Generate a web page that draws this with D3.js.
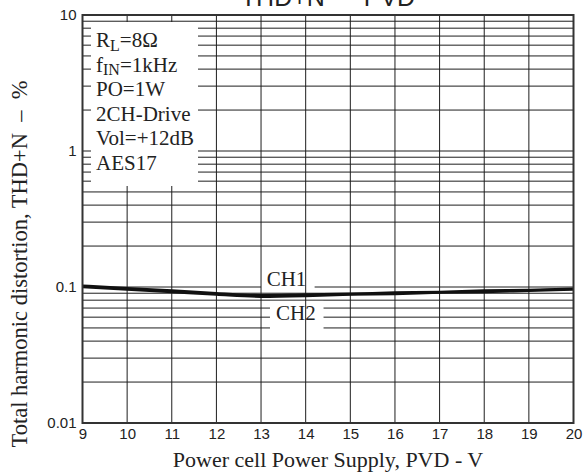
<!DOCTYPE html>
<html>
<head>
<meta charset="utf-8">
<script src="https://cdn.jsdelivr.net/npm/d3@7"></script>
<style>
  body { margin: 0; background: #fff; }
  svg { display: block; }
</style>
</head>
<body>
<svg id="chart"></svg>
<script>
// chart values
const pvd = [9, 10, 11, 12, 13, 14, 15, 16, 17, 18, 19, 20];
const ch1 = [0.102, 0.098, 0.094, 0.090, 0.087, 0.088, 0.089, 0.091, 0.092, 0.094, 0.095, 0.097];
const ch2 = [0.100, 0.096, 0.092, 0.088, 0.085, 0.086, 0.088, 0.089, 0.091, 0.092, 0.094, 0.096];
const xTicks = [9, 10, 11, 12, 13, 14, 15, 16, 17, 18, 19, 20];
const yTicks = [0.01, 0.1, 1, 10];
const yTickLabels = ['0.01', '0.1', '1', '10'];
const notes = ['R|L|=8Ω', 'f|IN|=1kHz', 'PO=1W', '2CH-Drive', 'Vol=+12dB', 'AES17'];

const W = 584, H = 476;
const margin = {top: 15, right: 10.5, bottom: 53, left: 82.5};
const width = W - margin.left - margin.right;
const height = H - margin.top - margin.bottom;

const svg = d3.select('#chart').attr('width', W).attr('height', H);
const g = svg.append('g').attr('transform', `translate(${margin.left},${margin.top})`);

const x = d3.scaleLinear().domain([9, 20]).range([0, width]);
const y = d3.scaleLog().domain([0.01, 10]).range([height, 0]);

const serif = '"Liberation Serif", "Times New Roman", serif';
const sans = '"Liberation Sans", Arial, sans-serif';

// horizontal grid: 1..9 of every decade
const hLines = [];
[0.01, 0.1, 1].forEach(dec => {
  for (let k = 1; k <= 9; k++) hLines.push(dec * k);
});
g.selectAll('.hgrid')
  .data(hLines.filter(v => v > 0.01))
  .join('line')
    .attr('class', 'hgrid')
    .attr('x1', 0).attr('x2', width)
    .attr('y1', d => y(d)).attr('y2', d => y(d))
    .attr('stroke', '#1e1e1e').attr('stroke-width', 1);

// white patches behind CH labels (break the horizontal lines only)
const chBoxes = [
  {x0: 13.0, x1: 14.2, v0: 0.118, v1: 0.0935},
  {x0: 13.2, x1: 14.4, v0: 0.079, v1: 0.042}
];
g.selectAll('.chbox')
  .data(chBoxes)
  .join('rect')
    .attr('class', 'chbox')
    .attr('x', d => x(d.x0))
    .attr('width', d => x(d.x1) - x(d.x0))
    .attr('y', d => y(d.v0))
    .attr('height', d => y(d.v1) - y(d.v0))
    .attr('fill', '#fff');

// vertical grid
g.selectAll('.vgrid')
  .data(xTicks.slice(1, -1))
  .join('line')
    .attr('class', 'vgrid')
    .attr('x1', d => x(d)).attr('x2', d => x(d))
    .attr('y1', 0).attr('y2', height)
    .attr('stroke', '#1e1e1e').attr('stroke-width', 1);

// annotation box
g.append('rect')
  .attr('x', 8.5).attr('y', 7)
  .attr('width', 107).attr('height', 164)
  .attr('fill', '#fff');

const noteText = g.append('text')
  .attr('font-family', serif)
  .attr('font-size', 21)
  .attr('fill', '#222');
notes.forEach((n, i) => {
  const parts = n.split('|');
  const t = noteText.append('tspan').attr('x', 13.5).attr('y', 32 + i * 24.6);
  t.append('tspan').text(parts[0]);
  if (parts.length > 1) {
    t.append('tspan').attr('font-size', 16).attr('dy', 3.5).text(parts[1]);
    t.append('tspan').attr('dy', -3.5).text(parts[2]);
  }
});

// curves
const line = d3.line()
  .x((d, i) => x(pvd[i]))
  .y(d => y(d))
  .curve(d3.curveMonotoneX);

[ch1, ch2].forEach(s => {
  g.append('path')
    .datum(s)
    .attr('d', line)
    .attr('fill', 'none')
    .attr('stroke', '#111')
    .attr('stroke-width', 2.6);
});

// CH labels
g.append('text')
  .attr('x', x(13.57)).attr('y', y(0.102))
  .attr('text-anchor', 'middle')
  .attr('font-family', serif).attr('font-size', 21).attr('fill', '#222')
  .text('CH1');
g.append('text')
  .attr('x', x(13.78)).attr('y', y(0.0575))
  .attr('text-anchor', 'middle')
  .attr('font-family', serif).attr('font-size', 21).attr('fill', '#222')
  .text('CH2');

// frame
g.append('rect')
  .attr('width', width).attr('height', height)
  .attr('fill', 'none')
  .attr('stroke', '#333').attr('stroke-width', 2);

// axes
const xAxis = g.append('g')
  .attr('transform', `translate(0,${height})`)
  .call(d3.axisBottom(x).tickValues(xTicks).tickFormat(d3.format('d')).tickSize(0).tickPadding(5));
const yAxis = g.append('g')
  .call(d3.axisLeft(y).tickValues(yTicks).tickFormat((d, i) => yTickLabels[i]).tickSize(0).tickPadding(6));
[xAxis, yAxis].forEach(a => {
  a.select('.domain').remove();
  a.selectAll('text')
    .attr('font-family', sans).attr('font-size', 15).attr('fill', '#222');
});

// axis titles
svg.append('text')
  .attr('x', margin.left + width / 2).attr('y', 467)
  .attr('text-anchor', 'middle')
  .attr('font-family', serif).attr('font-size', 22).attr('fill', '#222')
  .text('Power cell Power Supply, PVD - V');

svg.append('text')
  .attr('transform', `translate(27,${264}) rotate(-90)`)
  .attr('text-anchor', 'middle')
  .attr('font-family', serif).attr('font-size', 22.5).attr('fill', '#222')
  .style('white-space', 'pre')
  .text('Total harmonic distortion, THD+N  –  %');

// title, mostly cut off at the top
svg.append('text')
  .attr('x', margin.left + width / 2).attr('y', 6)
  .attr('text-anchor', 'middle')
  .attr('font-family', sans).attr('font-size', 25).attr('fill', '#222')
  .text('THD+N — PVD');
</script>
</body>
</html>
